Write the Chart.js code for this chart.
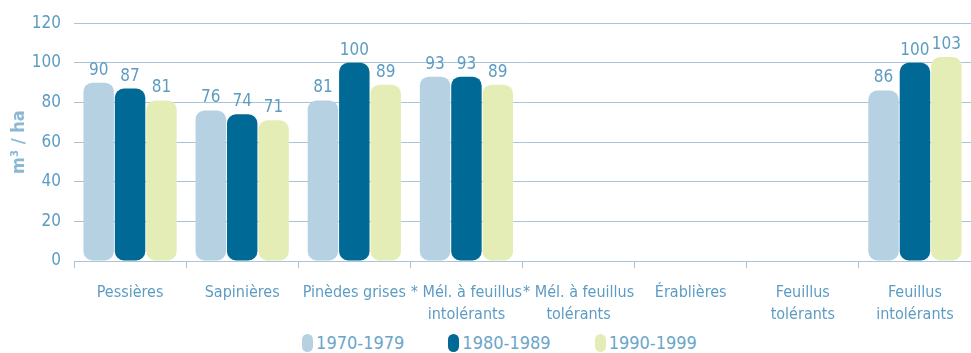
<!DOCTYPE html>
<html lang="fr">
<head>
<meta charset="utf-8">
<title>Volume marchand brut (m³/ha)</title>
<script src="https://cdn.jsdelivr.net/npm/chart.js@4.4.1/dist/chart.umd.min.js"></script>
<style>
  html, body { margin: 0; padding: 0; background: #fff; }
  #wrap { position: relative; width: 971px; height: 353px; overflow: hidden; }
  #chart-box { position: absolute; left: 0; top: 0; width: 971px; height: 331px; }
  #legend { position: absolute; left: 0; top: 333px; width: 971px; height: 20px;
            display: flex; justify-content: center; gap: 44px; margin-left: 14px;
            font-family: "DejaVu Sans Condensed", sans-serif;
            font-size: 18px; color: #6aa6c8; }
  #legend .item { display: flex; align-items: center; gap: 3px; line-height: 20px; }
  #legend .box { width: 11px; height: 18px; border-radius: 6px; display: inline-block; }
</style>
</head>
<body>
<div id="wrap">
  <div id="chart-box"><canvas id="volume-chart"></canvas></div>
  <div id="legend"></div>
</div>
<script>
const categories = [
  'Pessières',
  'Sapinières',
  'Pinèdes grises',
  ['* Mél. à feuillus', 'intolérants'],
  ['* Mél. à feuillus', 'tolérants'],
  'Érablières',
  ['Feuillus', 'tolérants'],
  ['Feuillus', 'intolérants']
];
const periods = ['1970-1979', '1980-1989', '1990-1999'];
const values7079 = [90, 76, 81, 93, null, null, null, 86];
const values8089 = [87, 74, 100, 93, null, null, null, 100];
const values9099 = [81, 71, 89, 89, null, null, null, 103];
const yTicks = [0, 20, 40, 60, 80, 100, 120];

const colors = ['#b6d1e2', '#006995', '#e5edb6'];
const textBlue = '#5d9cc2';
const gridColor = '#a8c4d7';
const font = '"DejaVu Sans Condensed", sans-serif';

// valeurs inscrites au-dessus de chaque barre
const valueLabels = {
  id: 'valueLabels',
  afterDatasetsDraw(chart) {
    const ctx = chart.ctx;
    ctx.save();
    ctx.font = '17px ' + font;
    ctx.fillStyle = textBlue;
    ctx.textAlign = 'center';
    ctx.textBaseline = 'bottom';
    chart.data.datasets.forEach((ds, i) => {
      const meta = chart.getDatasetMeta(i);
      meta.data.forEach((bar, j) => {
        const v = ds.data[j];
        if (v == null) return;
        ctx.fillText(String(v), bar.x, bar.y - 4);
      });
    });
    ctx.restore();
  }
};

const datasets = [values7079, values8089, values9099].map((data, i) => ({
  label: periods[i],
  data: data,
  backgroundColor: colors[i],
  borderWidth: 0,
  borderRadius: 9,
  borderSkipped: false,
  categoryPercentage: 0.84,
  barPercentage: 0.97
}));

const chart = new Chart(document.getElementById('volume-chart'), {
  type: 'bar',
  data: { labels: categories, datasets: datasets },
  options: {
    responsive: true,
    maintainAspectRatio: false,
    animation: false,
    layout: { padding: { top: 21, right: 0, bottom: 0, left: 0 } },
    plugins: {
      legend: { display: false },
      tooltip: { enabled: false }
    },
    scales: {
      x: {
        grid: {
          display: true,
          offset: true,
          drawOnChartArea: false,
          drawTicks: true,
          tickLength: 7,
          color: gridColor
        },
        border: { display: true, color: gridColor, width: 1 },
        ticks: {
          color: textBlue,
          font: { family: font, size: 16, lineHeight: 1.35 },
          padding: 14,
          maxRotation: 0,
          autoSkip: false
        },
        afterFit(scale) { scale.height = 70; }
      },
      y: {
        min: 0,
        max: 120,
        afterBuildTicks(scale) { scale.ticks = yTicks.map(v => ({ value: v })); },
        grid: { color: gridColor, drawTicks: false, lineWidth: 1 },
        border: { display: false },
        ticks: {
          color: textBlue,
          font: { family: font, size: 17 },
          padding: 13
        },
        title: {
          display: true,
          text: 'm³ / ha',
          color: '#8bb9d5',
          font: { family: font, size: 18, weight: 'bold' },
          padding: { top: 9, bottom: 0 }
        },
        afterFit(scale) { scale.width = 74; }
      }
    }
  },
  plugins: [valueLabels]
});

// légende HTML construite à partir des séries
const legend = document.getElementById('legend');
chart.data.datasets.forEach(ds => {
  const item = document.createElement('span');
  item.className = 'item';
  const box = document.createElement('span');
  box.className = 'box';
  box.style.background = ds.backgroundColor;
  const txt = document.createElement('span');
  txt.textContent = ds.label;
  item.appendChild(box);
  item.appendChild(txt);
  legend.appendChild(item);
});
</script>
</body>
</html>
